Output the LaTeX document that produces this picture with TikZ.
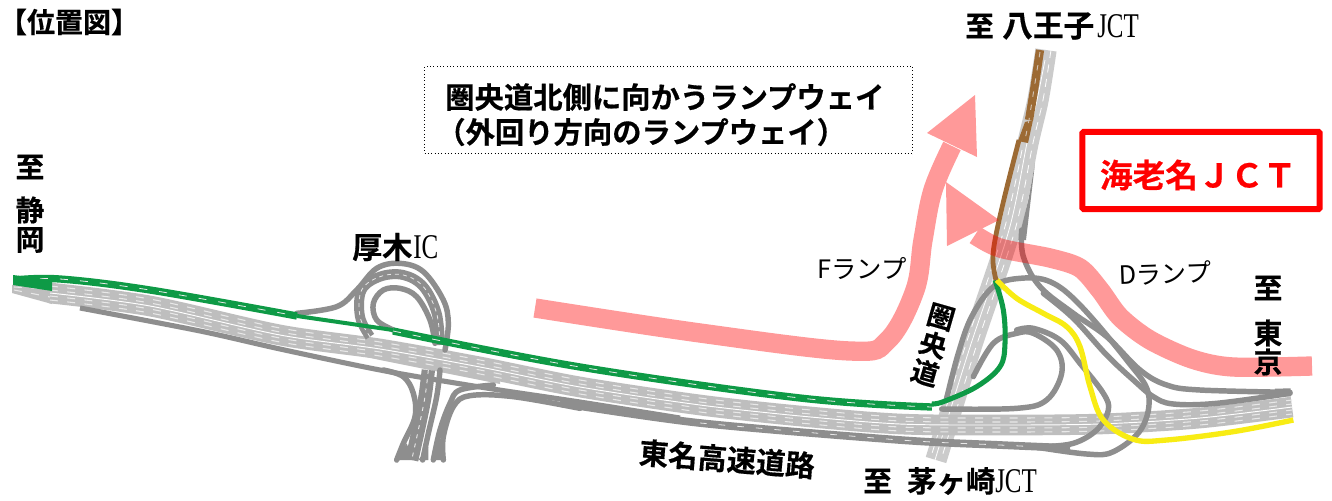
\documentclass[tikz,border=0pt]{standalone}
\usepackage{fontspec}
\setmainfont{Noto Sans CJK JP}
\newfontfamily\jpb[FakeBold=0.5]{Noto Sans CJK JP Bold}
\newfontfamily\ser{Liberation Serif}
\newcommand{\thinlat}[1]{\scalebox{.72}[1]{\ser\fontsize{26}{26}\selectfont #1}}
\newcommand{\px}[1]{\fontsize{#1}{#1}\selectfont}
\definecolor{band}{HTML}{BEBEBE}
\definecolor{vband}{HTML}{CBCBCB}
\definecolor{rampc}{HTML}{8E8E8E}
\definecolor{grn}{HTML}{0E9A46}
\definecolor{brn}{HTML}{9C6A34}
\definecolor{yel}{HTML}{F8EC14}
\definecolor{dash}{HTML}{E8E8E8}
\tikzset{
 mainroad/.style={line width=15.5pt,draw=band},
 vroad/.style={line width=16pt,draw=vband},
 ramp/.style={line width=4.1pt,draw=rampc,line cap=round},
 wide/.style={line width=7.5pt,draw=rampc},
 lanes/.style={line width=.8pt,draw=dash,dash pattern=on 6pt off 7pt},
 cline/.style={line width=.7pt,draw=white},
 lbl/.style={inner sep=0pt,font=\jpb\px{21.5},text=black},
 plain/.style={inner sep=0pt,font=\px{19},text=black},
 pinkline/.style={line width=14.5pt,draw=red},
}
\begin{document}
\begin{tikzpicture}[x=.75pt,y=-.75pt]
\useasboundingbox (0,0) rectangle (1332,500);
\fill[white] (0,0) rectangle (1332,500);
% Ken-O main
\draw[vroad] plot[smooth] coordinates {(1046,50) (1038,100) (1028,143) (1010,230) (971,347) (936,460)};
\draw[line width=.6pt,draw=white,dash pattern=on 6pt off 5pt] plot[smooth] coordinates {(1051,50) (1043,100) (1033,143) (1015,230) (976,347) (941,460)};
\draw[line width=.6pt,draw=white] plot[smooth] coordinates {(1045,60) (1037,100) (1027,143) (1009,230) (970,347) (935,460)};
\draw[line width=.6pt,draw=white,dash pattern=on 6pt off 5pt] plot[smooth] coordinates {(1022,150) (1004,230) (965,347) (930,460)};
\begin{scope}[shift={(900,0)},x=.25pt,y=-.25pt]
 \fill[rampc] (405,490) -- (378,720) -- (355,720) -- (385,600) -- cycle;
\end{scope}
% Tomei main
\fill[band] (12,285) -- (52,283) -- (52,304) -- (12,293) -- cycle;
\fill[band] (290,340) -- (380,360) -- (500,384) -- (500,368) -- (290,330) -- cycle;
\def\mainpts{(50,293) (150,306) (280,335) (380,349) (480,367) (580,387) (700,405) (800,416) (900,424) (1000,425) (1100,424) (1200,418) (1292,407)}
\draw[mainroad] plot[smooth,tension=.5] coordinates {\mainpts};
\draw[cline] plot[smooth,tension=.5] coordinates {\mainpts};
\foreach \d in {-7,-3,3,7}{
\draw[lanes,yshift=-\d*.75pt] plot[smooth,tension=.5] coordinates {(50,293) (150,306) (280,335) (380,349) (480,367) (580,387) (700,405) (800,416) (900,424) (1000,425) (1100,424) (1200,418) (1292,407)};
}
\draw[lanes] (14,287) -- (50,289);
\draw[lanes] (14,290) -- (50,297);
% Tomei lower road
\draw[line width=3.8pt,draw=rampc] plot[smooth,tension=.5] coordinates {(80,308) (200,331) (280,349) (380,370) (480,387) (580,402) (680,418)};
\draw[line width=5.8pt,draw=rampc] plot[smooth,tension=.5] coordinates {(560,403) (700,423) (900,440) (1000,445) (1070,448)};
\draw[line width=.6pt,draw=dash,dash pattern=on 5pt off 9pt] plot[smooth,tension=.5] coordinates {(700,423) (900,440) (1000,445) (1040,447)};
% Atsugi IC
\begin{scope}[shift={(280,230)},x=.25pt,y=-.25pt]
 \draw[ramp] plot[smooth,tension=.6] coordinates {(50,250) (170,230) (230,180) (290,115) (360,100) (430,125) (490,210) (505,280) (495,360)};
 \draw[wide] plot[smooth,tension=.6] coordinates {(270,320) (240,260) (245,180) (300,140) (370,135) (430,170) (470,250) (480,345)};
 \draw[line width=.6pt,draw=dash,dash pattern=on 3pt off 3pt] plot[smooth,tension=.6] coordinates {(270,320) (240,260) (245,180) (300,140) (370,135) (430,170) (470,250) (480,345)};
 \draw[ramp] plot[smooth,tension=.6] coordinates {(340,300) (290,270) (280,220) (310,180) (360,175) (410,200) (450,270) (465,340)};
 \draw[line width=10pt,draw=rampc] plot[smooth,tension=.6] coordinates {(445,420) (435,500) (415,600) (395,690)};
 \draw[line width=.7pt,draw=dash,dash pattern=on 3pt off 4pt] plot[smooth,tension=.6] coordinates {(445,420) (435,500) (415,600) (395,690)};
 \draw[ramp] plot[smooth,tension=.6] coordinates {(480,420) (470,500) (445,610) (428,690)};
 \draw[ramp] plot[smooth,tension=.6] coordinates {(310,420) (370,440) (400,490) (405,560) (370,640) (350,690)};
 \draw[ramp] plot[smooth,tension=.6] coordinates {(640,465) (540,480) (510,520) (480,600) (460,690)};
 \draw[ramp] plot[smooth,tension=.6] coordinates {(900,535) (700,500) (570,497) (520,530) (490,620) (490,690)};
 \fill[rampc] (345,690) -- (380,640) -- (400,690) -- cycle;
 \fill[rampc] (415,690) -- (445,650) -- (445,690) -- cycle;
 \fill[rampc] (460,690) -- (480,630) -- (497,690) -- cycle;
\end{scope}
% Ebina JCT ramps
\begin{scope}[shift={(900,230)},x=.25pt,y=-.25pt]
 \draw[ramp] plot[smooth,tension=.6] coordinates {(365,0) (370,80) (420,170) (520,250) (620,320) (720,420) (800,465) (900,480) (1170,487)};
 \draw[ramp] plot[smooth,tension=.6] coordinates {(430,190) (520,265) (620,375) (700,450) (760,500) (820,522) (950,520) (1170,490)};
 \draw[ramp] plot[smooth,tension=.6] coordinates {(140,505) (175,370) (215,260) (280,170) (360,145) (450,155) (540,225) (680,390) (745,490) (725,595) (640,665) (560,672) (400,650)};
 \draw[ramp] plot[smooth,tension=.6] coordinates {(125,537) (350,535) (440,510) (485,430) (470,360) (400,310) (350,310) (280,340) (220,440)};
 \draw[ramp] plot[smooth,tension=.6] coordinates {(350,300) (400,295) (480,330) (540,400) (610,490) (625,540) (590,600) (520,640) (430,650)};
 \draw[line width=6pt,draw=rampc] (1125,488) -- (1172,487);
\end{scope}
% Green route
\draw[line width=5.5pt,draw=grn] plot[smooth,tension=.6] coordinates {(15,280) (60,279) (150,290) (297,316)};
\draw[line width=3pt,draw=grn] (297,316) -- (393,330);
\draw[line width=5.5pt,draw=grn] plot[smooth,tension=.6] coordinates {(393,331) (580,367) (800,398) (932,407)};
\draw[line width=.6pt,draw=dash,dash pattern=on 6pt off 9pt] plot[smooth,tension=.6] coordinates {(20,280) (60,279) (150,290) (297,316)};
\draw[line width=.6pt,draw=dash,dash pattern=on 6pt off 9pt] plot[smooth,tension=.6] coordinates {(393,331) (580,367) (800,398) (932,407)};
\fill[grn] (13,275) -- (52,280) -- (52,291) -- (13,285) -- cycle;
\begin{scope}[shift={(900,230)},x=.25pt,y=-.25pt]
 \draw[line width=3.8pt,draw=grn] plot[smooth,tension=.6] coordinates {(285,150) (310,240) (315,340) (300,410) (230,470) (130,515) (95,522)};
 \draw[line width=4pt,draw=yel] plot[smooth,tension=.6] coordinates {(290,150) (350,205) (430,250) (500,290) (540,350) (570,470) (610,570) (700,628) (800,630) (1000,605) (1180,570)};
\end{scope}
% Brown route
\draw[line width=6.2pt,draw=brn] plot[smooth,tension=.6] coordinates {(1040,50) (1034,90) (1029,120)};
\fill[brn] (1025,122) -- (1018,141) -- (1028,143) -- (1033,120) -- cycle;
\draw[line width=.7pt,draw=dash!70!brn,dash pattern=on 4pt off 6pt] (1040,52) -- (1029,120) -- (1025,140);
\draw[line width=3.6pt,draw=brn] plot[smooth,tension=.6] coordinates {(1019,140) (1005,195) (995,240) (993,262) (996,280)};
% Pink arrows
\begin{scope}[transparency group,opacity=.4]
 \draw[pinkline] plot[smooth,tension=.6] coordinates {(535,308) (700,333) (850,351) (888,340) (915,290) (923,240) (933,190) (952,146)};
 \fill[red] (975,95) -- (927,133) -- (977,157) -- cycle;
 \draw[pinkline] plot[smooth,tension=.5] coordinates {(1312,366) (1233,367) (1192,359) (1150,340) (1120,317) (1100,290) (1080,268) (1050,258) (1000,248) (975,235)};
 \fill[red] (946,182) -- (999,220) -- (947,246) -- cycle;
\end{scope}
% Labels
\node[lbl,font=\jpb\px{21}] (title) at (69,22) {【位置図】};
\node[lbl,anchor=west] (to1) at (965,26) {至};
\node[lbl,anchor=west,font=\jpb\px{23}] (hachi) at (1002,26) {八王子};
\node[inner sep=0pt,anchor=west] (hachij) at (1097,26) {\thinlat{JCT}};
\node[draw=black,line width=.5pt,dotted,minimum width=366pt,minimum height=65pt,inner sep=0pt] (box) at (668.5,109.5) {};
\node[lbl,anchor=west,font=\jpb\px{22}] (l1) at (445,97) {圏央道北側に向かうランプウェイ};
\node[lbl,anchor=west,font=\jpb\px{22}] (l2) at (436,132) {（外回り方向のランプウェイ）};
\node[draw=red,line width=4.5pt,rounded corners=1pt,minimum width=178pt,minimum height=58pt,inner sep=0pt] (jctbox) at (1201,170.5) {};
\node[lbl,anchor=center,text=red,font=\jpb\px{24.5}] (jct) at (1198,175) {海老名ＪＣＴ};
\node[plain] (f) at (862,268) {Fランプ};
\node[plain,rotate=2] (d) at (1165,273) {Dランプ};
\node[lbl] (s0) at (30,167) {至};
\node[lbl] (s1) at (30,210) {静};
\node[lbl] (s2) at (30,240) {岡};
\node[lbl] (e0) at (1268,288) {至};
\node[lbl] (e1) at (1268,333) {東};
\node[lbl] (e2) at (1268,362) {京};
\node[lbl,anchor=west,font=\jpb\px{22.5}] (atsu) at (352,247) {厚木};
\node[inner sep=0pt,anchor=west] (atsui) at (413,247) {\thinlat{IC}};
\node[lbl,rotate=-16,align=center,font=\jpb\fontsize{20.5}{21.9}\selectfont] (ken) at (933,345) {圏\\央\\道};
\node[lbl,rotate=-4.5,font=\jpb\px{22}] (tomei) at (727,459) {東名高速道路};
\node[lbl,anchor=west] (to2) at (863,481) {至};
\node[lbl,anchor=west,font=\jpb\px{22}] (chi) at (907,481) {茅ヶ崎};
\node[inner sep=0pt,anchor=west] (chij) at (995,481) {\thinlat{JCT}};
\end{tikzpicture}
\end{document}
